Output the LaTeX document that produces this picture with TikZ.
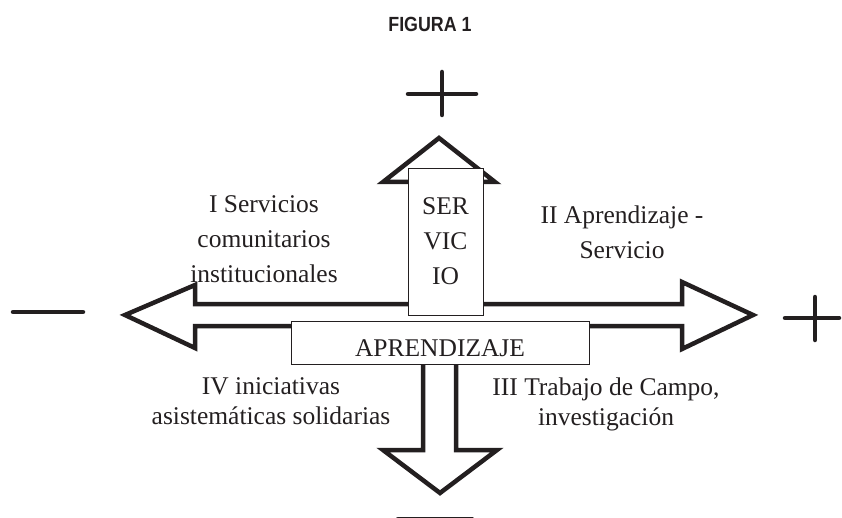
\documentclass[tikz,border=0pt]{standalone}
\usepackage{fontspec}
\setmainfont{Liberation Serif}
\newfontfamily\headfont{Liberation Sans}
\definecolor{ink}{HTML}{231F20}
\begin{document}
\begin{tikzpicture}[x=1pt,y=-1pt,
  thickline/.style={draw=ink,line width=4.5pt},
  signline/.style={draw=ink,line width=4.5pt,line cap=round},
  labelbox/.style={draw=ink,line width=0.8pt,fill=white,inner sep=0pt},
  quadtext/.style={text=ink,align=center,inner sep=0pt,anchor=north},
  bigfont/.style={font=\fontsize{25.5}{35}\selectfont},
  lowfont/.style={font=\fontsize{25.5}{30}\selectfont}]
\useasboundingbox (0,0) rectangle (842,518);
% title
\node[text=ink,font=\headfont\bfseries\fontsize{20.5}{24}\selectfont,xscale=0.87,inner sep=0pt] (title) at (430,24.5) {FIGURA 1};
% cross-shaped double arrows
\draw[thickline,fill=white,line join=miter]
  (439,138) -- (495,182) -- (456,182) -- (456,304) -- (682,304) -- (682,282)
  -- (753,315) -- (682,349) -- (682,326) -- (456,326) -- (456,450) -- (497,450)
  -- (440,493) -- (383,450) -- (423,450) -- (423,326) -- (195,326) -- (195,348)
  -- (125,315) -- (195,285) -- (195,304) -- (423,304) -- (423,182) -- (383,182) -- cycle;
% signs
\coordinate (ptl) at (408,94);  \coordinate (ptr) at (476,94);
\coordinate (ptt) at (442,72);  \coordinate (ptb) at (442,115);
\draw[signline] (ptl) -- (ptr); \draw[signline] (ptt) -- (ptb);
\coordinate (prl) at (785,318); \coordinate (prr) at (839,318);
\coordinate (prt) at (815,297); \coordinate (prb) at (815,340);
\draw[signline] (prl) -- (prr); \draw[signline] (prt) -- (prb);
\coordinate (mll) at (13,312);  \coordinate (mlr) at (83,312);
\draw[signline] (mll) -- (mlr);
\coordinate (mbl) at (398,519); \coordinate (mbr) at (472,519);
\draw[signline] (mbl) -- (mbr);
% boxes
\node[labelbox,minimum width=75pt,minimum height=147pt,align=center,text=ink,bigfont] (servicio) at (445.5,241.5) {SER\\VIC\\IO};
\node[labelbox,minimum width=298pt,text height=28.3pt,text depth=0pt,inner ysep=7.3pt,text=ink,font=\fontsize{25.5}{30}\selectfont] (aprendizaje) at (440,342.5) {APRENDIZAJE};
% quadrant labels
\node[quadtext,bigfont] (q1) at (264,195.5) {I Servicios\\comunitarios\\institucionales};
\node[quadtext,bigfont] (q2) at (622,205.5) {II Aprendizaje -\\Servicio};
\node[quadtext,lowfont] (q4) at (271,377.5) {IV iniciativas\\asistemáticas solidarias};
\node[quadtext,lowfont] (q3) at (606,377.5) {III Trabajo de Campo,\\investigación};
\end{tikzpicture}
\end{document}
